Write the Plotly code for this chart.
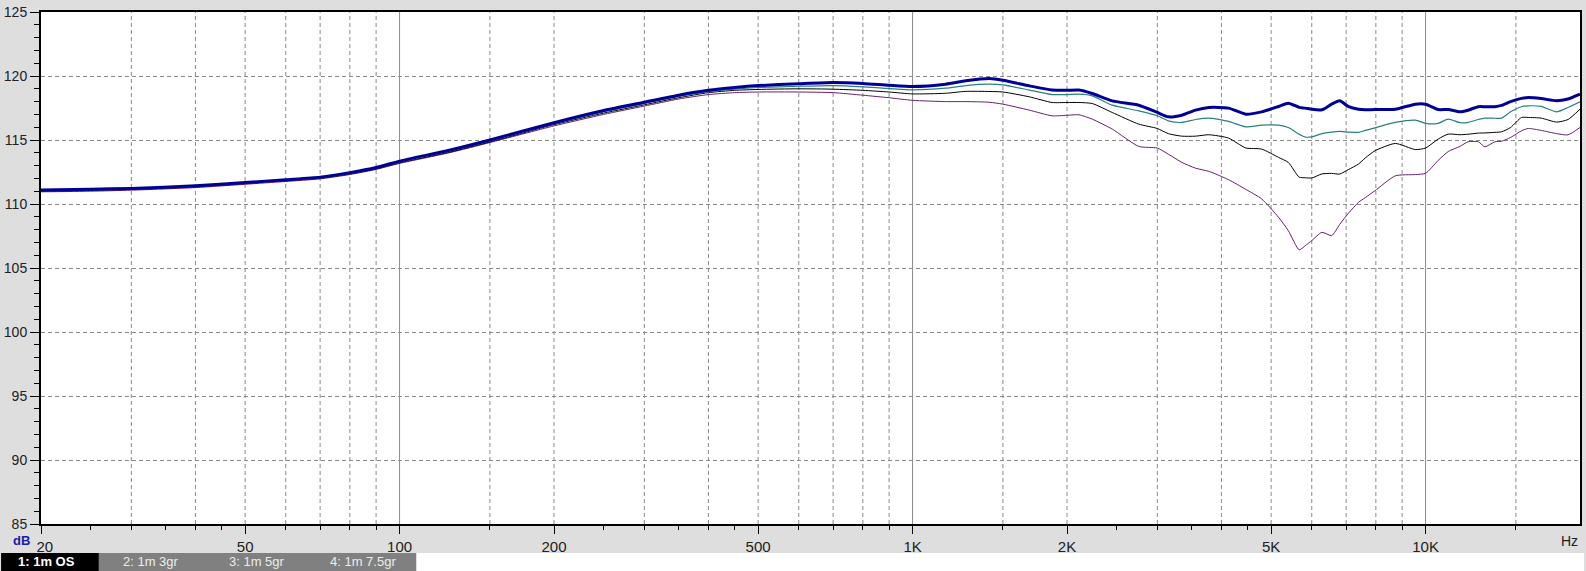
import math
import plotly.graph_objs as go

# measurement frequencies (Hz)
freq_hz = [20, 25, 30, 40, 50, 60, 70, 80, 90, 100, 125, 150, 200, 250, 300, 350, 400, 450, 500, 600, 700,
           800, 900, 1000, 1160, 1270, 1410, 1500, 1690, 1870, 2000, 2110, 2240, 2450, 2760, 3000, 3150,
           3350, 3560, 3780, 4130, 4460, 4790, 5170, 5400, 5670, 5830, 6000, 6280, 6560, 6800, 7080, 7400,
           7630, 7970, 8730, 9550, 10000, 10580, 11070, 11670, 12100, 12670, 13050, 13650, 14060, 14650,
           15380, 15850, 16800, 18000, 18950, 20000]

# 1: 1m OS
db_os = [111.1, 111.15, 111.22, 111.42, 111.68, 111.9, 112.1, 112.45, 112.85, 113.35, 114.2, 115.0, 116.35,
         117.3, 117.95, 118.5, 118.88, 119.1, 119.25, 119.4, 119.5, 119.42, 119.28, 119.18, 119.36, 119.62,
         119.8, 119.67, 119.23, 118.9, 118.88, 118.9, 118.63, 118.06, 117.72, 117.15, 116.81, 116.94, 117.33,
         117.54, 117.49, 117.02, 117.2, 117.62, 117.88, 117.55, 117.49, 117.4, 117.36, 117.8, 118.06, 117.6,
         117.4, 117.36, 117.38, 117.4, 117.8, 117.8, 117.38, 117.38, 117.2, 117.33, 117.6, 117.6, 117.6,
         117.7, 118.0, 118.25, 118.32, 118.24, 118.06, 118.2, 118.58]

# 2: 1m 3gr
db_3gr = [111.05, 111.1, 111.18, 111.38, 111.64, 111.86, 112.06, 112.4, 112.8, 113.28, 114.12, 114.92, 116.28,
          117.2, 117.85, 118.4, 118.78, 118.98, 119.1, 119.2, 119.25, 119.15, 119.02, 118.92, 119.05, 119.25,
          119.36, 119.3, 118.9, 118.55, 118.55, 118.58, 118.45, 117.72, 117.28, 116.89, 116.5, 116.37, 116.6,
          116.71, 116.45, 116.03, 116.16, 116.16, 115.98, 115.45, 115.23, 115.25, 115.5, 115.62, 115.67,
          115.62, 115.6, 115.75, 115.95, 116.37, 116.55, 116.3, 116.3, 116.63, 116.35, 116.38, 116.6, 116.71,
          116.7, 116.71, 117.2, 117.6, 117.67, 117.62, 117.2, 117.54, 117.98]

# 3: 1m 5gr
db_5gr = [111.0, 111.06, 111.14, 111.34, 111.6, 111.82, 112.02, 112.35, 112.75, 113.22, 114.05, 114.85, 116.2,
          117.1, 117.75, 118.3, 118.7, 118.88, 118.95, 119.0, 118.97, 118.88, 118.75, 118.6, 118.65, 118.8,
          118.79, 118.75, 118.37, 117.93, 117.93, 117.93, 117.85, 117.15, 116.24, 115.9, 115.5, 115.3, 115.3,
          115.41, 115.15, 114.38, 114.29, 113.64, 113.25, 112.1, 112.05, 112.03, 112.35, 112.39, 112.34, 112.7,
          113.12, 113.6, 114.16, 114.73, 114.25, 114.37, 115.07, 115.46, 115.41, 115.45, 115.54, 115.55, 115.6,
          115.64, 115.98, 116.76, 116.76, 116.71, 116.4, 116.6, 117.41]

# 4: 1m 7.5gr
db_75gr = [110.95, 111.0, 111.08, 111.28, 111.54, 111.76, 111.96, 112.3, 112.7, 113.17, 114.0, 114.8, 116.1,
           117.0, 117.65, 118.2, 118.55, 118.7, 118.75, 118.75, 118.7, 118.5, 118.3, 118.1, 118.0, 118.0,
           117.95, 117.8, 117.33, 116.89, 116.93, 116.97, 116.63, 115.85, 114.5, 114.37, 113.9, 113.25, 112.8,
           112.55, 111.9, 111.15, 110.4, 108.96, 107.92, 106.42, 106.75, 107.14, 107.79, 107.53, 108.4, 109.3,
           110.13, 110.5, 111.04, 112.2, 112.3, 112.4, 113.4, 114.1, 114.5, 114.86, 114.86, 114.47, 114.86,
           114.9, 115.2, 115.72, 115.9, 115.75, 115.5, 115.4, 115.98]

trace_names = ["1: 1m OS", "2: 1m 3gr", "3: 1m 5gr", "4: 1m 7.5gr"]

x_tick_vals = [20, 50, 100, 200, 500, 1000, 2000, 5000, 10000]
x_tick_text = ["\u200220", "50", "100", "200", "500", "1K", "2K", "5K", "10K"]
x_minor_ticks = [25, 30, 35, 40, 45, 60, 70, 80, 90, 150, 250, 300, 350, 400, 450, 600, 700, 800, 900,
                 1500, 2500, 3000, 3500, 4000, 4500, 6000, 7000, 8000, 9000, 15000]
grid_dashed = [30, 40, 50, 60, 70, 80, 90, 150, 200, 300, 400, 500, 600, 700, 800, 900,
               1500, 2000, 3000, 4000, 5000, 6000, 7000, 8000, 9000, 15000]
grid_solid = [100, 1000, 10000]

W, H = 1586, 571
ML, MR, MT, MB = 40, 4, 11, 47
PW, PH = W - ML - MR, H - MT - MB
FONT = 'Liberation Sans, Arial'


def px(x):
    return (x - ML) / PW


def py(y):
    return (H - MB - y) / PH


fig = go.Figure()

# purple first, blue (selected curve) last on top
fig.add_trace(go.Scatter(x=freq_hz, y=db_75gr, mode='lines', name=trace_names[3],
                         line=dict(color='#66206e', width=1, shape='spline', smoothing=0.6)))
fig.add_trace(go.Scatter(x=freq_hz, y=db_5gr, mode='lines', name=trace_names[2],
                         line=dict(color='#000000', width=1, shape='spline', smoothing=0.6)))
fig.add_trace(go.Scatter(x=freq_hz, y=db_3gr, mode='lines', name=trace_names[1],
                         line=dict(color='#2a8080', width=1.2, shape='spline', smoothing=0.6)))
fig.add_trace(go.Scatter(x=freq_hz, y=db_os, mode='lines', name=trace_names[0],
                         line=dict(color='#000096', width=3, shape='spline', smoothing=0.6)))

# vertical grid
for f in grid_dashed:
    fig.add_shape(type='line', xref='x', yref='paper', x0=f, x1=f, y0=0, y1=1, layer='below',
                  line=dict(color='#8a8a8a', width=1, dash='4px,3px'))
for f in grid_solid:
    fig.add_shape(type='line', xref='x', yref='paper', x0=f, x1=f, y0=0, y1=1, layer='below',
                  line=dict(color='#8a8a8a', width=1))

# legend bar at the bottom
fig.add_shape(type='rect', xref='paper', yref='paper', x0=px(0), x1=px(W), y0=py(H), y1=py(553),
              fillcolor='white', line_width=0)
fig.add_shape(type='rect', xref='paper', yref='paper', x0=px(0), x1=px(98), y0=py(H), y1=py(553),
              fillcolor='black', line_width=0)
fig.add_shape(type='rect', xref='paper', yref='paper', x0=px(98), x1=px(416), y0=py(H), y1=py(553),
              fillcolor='#808080', line_width=0)
legend_x = [46, 150, 256, 363]
for i, name in enumerate(trace_names):
    fig.add_annotation(x=px(legend_x[i]), y=py(562), xref='paper', yref='paper',
                       text=f'<b>{name}</b>' if i == 0 else name,
                       showarrow=False, xanchor='center', yanchor='middle',
                       font=dict(size=13, color='white' if i == 0 else '#ececec', family=FONT))

fig.add_annotation(x=px(31), y=py(541), xref='paper', yref='paper', text='<b>dB</b>', showarrow=False,
                   xanchor='right', yanchor='middle', font=dict(size=13, color='#1a1aa8', family=FONT))
fig.add_annotation(x=px(1582), y=py(541), xref='paper', yref='paper', text='Hz', showarrow=False,
                   xanchor='right', yanchor='middle', font=dict(size=14, color='#222222', family=FONT))

fig.update_layout(
    width=W, height=H,
    margin=dict(l=ML, r=MR, t=MT, b=MB),
    paper_bgcolor='#dedede',
    plot_bgcolor='white',
    showlegend=False,
    font=dict(family=FONT, size=14, color='#222222'),
    xaxis=dict(type='log', range=[math.log10(20), math.log10(20000)],
               tickvals=x_tick_vals, ticktext=x_tick_text, tickfont=dict(size=15),
               ticks='outside', ticklen=8, tickcolor='black', showgrid=False, zeroline=False,
               showline=True, linecolor='black', linewidth=2, mirror=True,
               minor=dict(tickvals=x_minor_ticks, ticks='outside', ticklen=4, tickcolor='black',
                          showgrid=False)),
    yaxis=dict(range=[85, 125], tick0=85, dtick=5, ticks='outside', ticklen=9, tickcolor='black',
               tickfont=dict(size=14),
               showgrid=True, gridcolor='#8a8a8a', griddash='4px,3px', gridwidth=1, zeroline=False,
               showline=True, linecolor='black', linewidth=2, mirror=True,
               minor=dict(dtick=1, ticks='outside', ticklen=5, tickcolor='black', showgrid=False)),
)

fig.write_html("out.html", config={'displayModeBar': False},
               post_script="document.body.style.margin='0';")
